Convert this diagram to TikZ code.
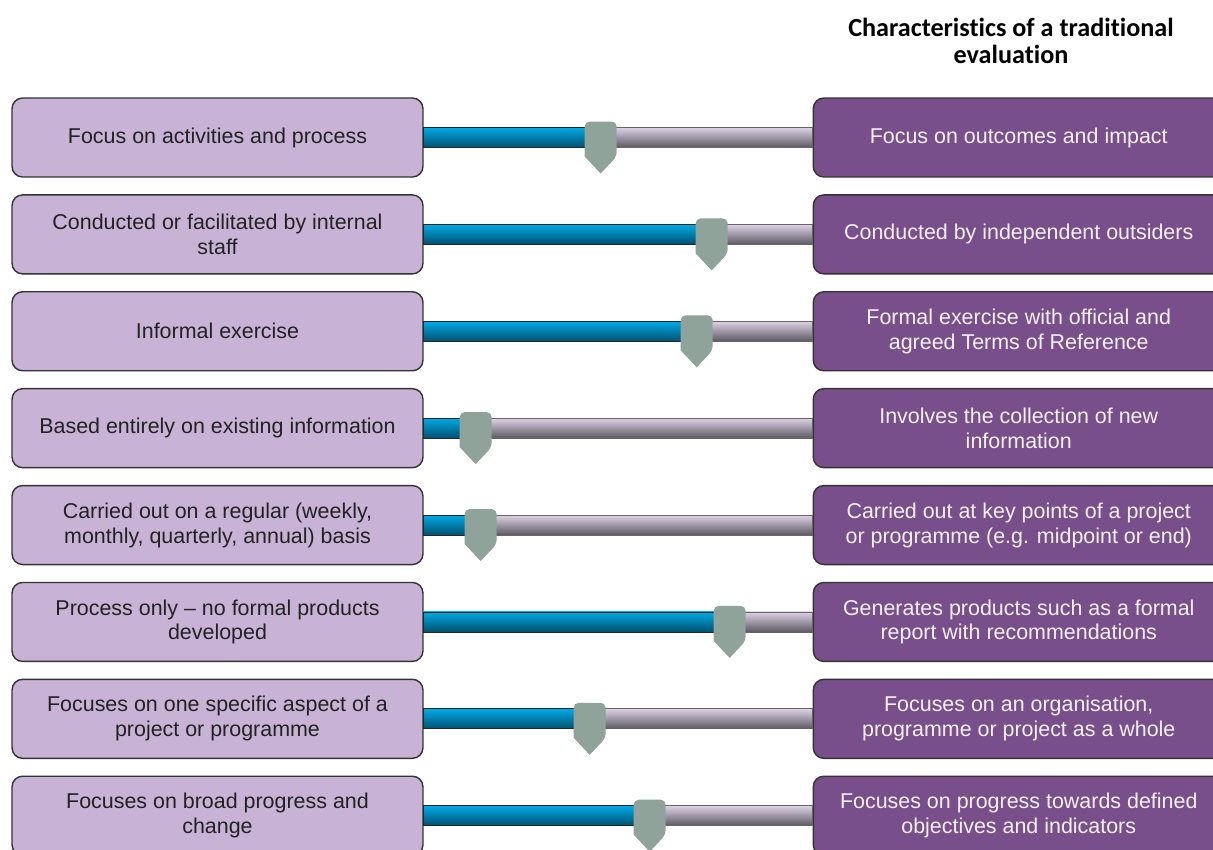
\documentclass[tikz,border=0pt]{standalone}
\usepackage{fontspec}
\setmainfont{Liberation Sans}
\newfontfamily\headfont[Ligatures=NoCommon]{Carlito}
\usetikzlibrary{positioning}
\definecolor{lilac}{HTML}{C8B3D6}
\definecolor{plum}{HTML}{794F8B}
\definecolor{txtdark}{HTML}{222222}
\definecolor{txtlight}{HTML}{F6F0F8}
\definecolor{barblue}{HTML}{00AAE6}
\definecolor{bardark}{HTML}{00506E}
\definecolor{barlight}{HTML}{DDD2E6}
\definecolor{bargrey}{HTML}{5C5861}
\definecolor{knobgreen}{HTML}{8FA39A}
\tikzstyle{lbox}=[draw=black!80, fill=lilac, rounded corners=6pt, minimum width=8.22cm, minimum height=1.58cm, line width=0.8pt, align=center, text=txtdark, font=\fontsize{12.2}{14.2}\selectfont]
\tikzstyle{rbox}=[lbox, fill=plum, text=txtlight]
\tikzstyle{bluebar}=[draw=black!85, line width=0.4pt, top color=barblue, middle color=barblue, bottom color=bardark]
\tikzstyle{greybar}=[draw=black!60, line width=0.4pt, top color=barlight, middle color=barlight!92!bargrey, bottom color=bargrey]
\tikzstyle{knob}=[fill=knobgreen]
\newcommand{\knob}[1]{\fill[knob] (#1) ++(-16,19) [rounded corners=2.8pt] -- ++(0,-35) -- ++(32,0) -- ++(0,35) [sharp corners] -- ++(-16,17) -- cycle;}
\newcommand{\slide}[3]{%
  \shade[bluebar] ([yshift=-0.2cm]#1.east) rectangle ([yshift=0.2cm]#2);
  \shade[greybar] ([yshift=-0.2cm]#2) rectangle ([yshift=0.2cm]#3.west);
  \knob{#2}}

\begin{document}
\begin{tikzpicture}[x=0.02cm,y=-0.02cm,node distance=0.33cm]
\clip (0,0) rectangle (1213,849);

\node[align=center, font=\headfont\bfseries\fontsize{14.9}{15.4}\selectfont] (title) at (1011,41) {Characteristics of a traditional\\evaluation};

% left column
\node[lbox] (l1) at (217.5,137.5) {Focus on activities and process};
\node[lbox, below=of l1] (l2) {Conducted or facilitated by internal\\staff};
\node[lbox, below=of l2] (l3) {Informal exercise};
\node[lbox, below=of l3] (l4) {Based entirely on existing information};
\node[lbox, below=of l4] (l5) {Carried out on a regular (weekly,\\monthly, quarterly, annual) basis};
\node[lbox, below=of l5] (l6) {Process only -- no formal products\\developed};
\node[lbox, below=of l6] (l7) {Focuses on one specific aspect of a\\project or programme};
\node[lbox, below=of l7] (l8) {Focuses on broad progress and\\change};

% right column
\node[rbox, right=7.78cm of l1] (r1) {Focus on outcomes and impact};
\node[rbox, right=7.78cm of l2] (r2) {Conducted by independent outsiders};
\node[rbox, right=7.78cm of l3] (r3) {Formal exercise with official and\\agreed Terms of Reference};
\node[rbox, right=7.78cm of l4] (r4) {Involves the collection of new\\information};
\node[rbox, right=7.78cm of l5] (r5) {Carried out at key points of a project\\or programme (e.g. midpoint or end)};
\node[rbox, right=7.78cm of l6] (r6) {Generates products such as a formal\\report with recommendations};
\node[rbox, right=7.78cm of l7] (r7) {Focuses on an organisation,\\programme or project as a whole};
\node[rbox, right=7.78cm of l8] (r8) {Focuses on progress towards defined\\objectives and indicators};

% slider positions
\path (l1.east) ++(177,0) coordinate (s1);
\path (l2.east) ++(288,0) coordinate (s2);
\path (l3.east) ++(273,0) coordinate (s3);
\path (l4.east) ++(52,0) coordinate (s4);
\path (l5.east) ++(57,0) coordinate (s5);
\path (l6.east) ++(306,0) coordinate (s6);
\path (l7.east) ++(166,0) coordinate (s7);
\path (l8.east) ++(226,0) coordinate (s8);

\slide{l1}{s1}{r1}
\slide{l2}{s2}{r2}
\slide{l3}{s3}{r3}
\slide{l4}{s4}{r4}
\slide{l5}{s5}{r5}
\slide{l6}{s6}{r6}
\slide{l7}{s7}{r7}
\slide{l8}{s8}{r8}
\end{tikzpicture}
\end{document}
